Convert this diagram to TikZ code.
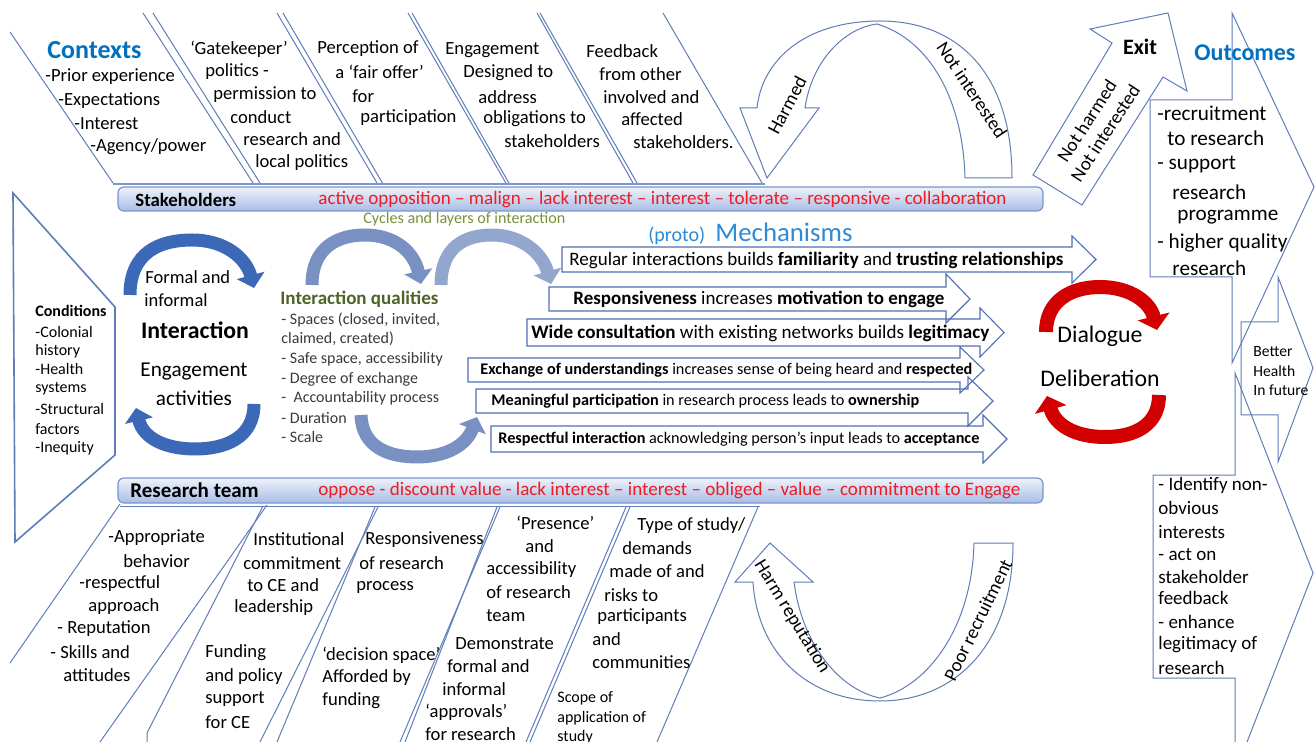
\documentclass[tikz,border=0pt]{standalone}
\usepackage{fontspec}
\setmainfont{Carlito}
\usepackage{graphicx}
\usetikzlibrary{arrows.meta}
\definecolor{lnc}{HTML}{5F7DB8}
\definecolor{mechc}{HTML}{4F70B5}
\definecolor{barb}{HTML}{7C95CC}
\definecolor{barT}{HTML}{EEF2FA}
\definecolor{barB}{HTML}{A8BDE6}
\definecolor{redt}{HTML}{EE1C25}
\definecolor{ttl}{HTML}{0070C0}
\definecolor{mechb}{HTML}{2E8BD6}
\definecolor{colOlive}{HTML}{76923C}
\definecolor{dgreen}{HTML}{4F6228}
\definecolor{iqgray}{HTML}{3A3A3A}
\definecolor{cycA}{HTML}{3C68B8}
\definecolor{cycB}{HTML}{7890C2}
\definecolor{dred}{HTML}{D20000}
\newcommand{\fitw}[2]{\resizebox{#1}{!}{#2}}
\tikzset{
 bone/.style={draw=lnc, line width=0.5pt},
 tx/.style={inner sep=0pt, anchor=west, font=\fontsize{9.3}{11}\selectfont},
 cond/.style={tx, font=\fontsize{8}{10}\selectfont},
 iq/.style={tx, text=iqgray, font=\fontsize{8}{10}\selectfont},
 oca/.style={tx, font=\fontsize{10.6}{12}\selectfont},
 ocb/.style={tx, font=\fontsize{9.5}{11}\selectfont},
 bh/.style={tx, font=\fontsize{7.8}{9}\selectfont},
 scp/.style={tx, font=\fontsize{8}{9}\selectfont},
 mech/.style={draw=mechc, line width=0.55pt},
 bar/.style={draw=barb, line width=0.6pt, rounded corners=3pt, top color=barT, bottom color=barB},
 cyc/.style={line width=6.5pt, -{Triangle[length=6.5pt,width=14pt]}},
 archtxt/.style={inner sep=0pt, font=\fontsize{9.5}{11}\selectfont},
}
\begin{document}
\begin{tikzpicture}[x=0.5pt,y=-0.5pt]
\useasboundingbox (0,0) rectangle (1315,742);
\fill[white] (0,0) rectangle (1315,742);

% ---------- top bones
\draw[bone] (10,32) -- (113,183);
\draw[bone] (143,13) -- (253,183); \draw[bone] (153,13) -- (260,183);
\draw[bone] (277,13) -- (377,183); \draw[bone] (283,13) -- (383,184);
\draw[bone] (408,13) -- (507,185); \draw[bone] (412,13) -- (510,185);
\draw[bone] (537,13) -- (633,183); \draw[bone] (540,13) -- (637,183);
\draw[bone] (663,13) -- (762,183);
\draw[draw=lnc!80, line width=1.2pt] (113,184) -- (765,184);

% ---------- bottom bones
\draw[bone] (120,506) -- (760,506);
\draw[bone] (120,504) -- (10,663);
\draw[bone] (267,505) -- (100,742);
\draw[bone] (263,506) -- (147,733) -- (147,742);
\draw[bone] (378,507) -- (260,742);
\draw[bone] (375,507) -- (277,742);
\draw[bone] (500,507) -- (400,742);
\draw[bone] (497,507) -- (405,742);
\draw[bone] (630,507) -- (530,742);
\draw[bone] (626,507) -- (526,742);
\draw[bone] (758,507) -- (657,742);

% ---------- conditions pentagon
\draw[bone, line width=0.8pt] (13,193) -- (115,307) -- (115,455) -- (15,542) -- cycle;

% ---------- bars
\path[bar] (118,187) rectangle (1043,211);
\path[bar] (118,478) rectangle (1043,503);

% ---------- arch shapes
\draw[bone] (965,178) -- (1012,178) .. controls (1012,70) and (955,21) .. (880,21)
  .. controls (805,21) and (762,60) .. (757,108) -- (740,108) -- (767,178) -- (819,108) -- (805,108)
  .. controls (812,60) and (845,28) .. (877,24) .. controls (930,40) and (963,100) .. (965,178);
\draw[bone] (974,543) -- (1013,543) .. controls (1013,645) and (955,701) .. (880,701)
  .. controls (805,701) and (757,650) .. (753,582) -- (735,582) -- (770,543) -- (813,582) -- (794,582)
  .. controls (802,645) and (840,690) .. (880,698) .. controls (930,685) and (972,625) .. (974,543);

% ---------- exit arrow and outcome chevrons
\draw[bone] (1033,175) -- (1082,205) -- (1163,77) -- (1187,91) -- (1168,13) -- (1090,29) -- (1112,43) -- cycle;
\draw[bone] (1232,13) -- (1314,187) -- (1232,363) -- (1232,277) -- (1150,277) -- (1150,100) -- (1232,100) -- cycle;
\draw[bone] (1278,277) -- (1313,368) -- (1278,462) -- (1278,415) -- (1241,415) -- (1241,322) -- (1278,322) -- cycle;
\draw[bone] (1247,742) -- (1313,573) -- (1235,373) -- (1235,475) -- (1153,475) -- (1153,678) -- (1235,678) -- (1235,742);

% ---------- mechanism arrows
\foreach \xl/\yt/\yb/\xb/\hta/\hba/\xt in {562/247/272/1072/236/283/1096, 549/287/311/946/274/323/970, 527/319/346/980/308/357/1004, 468/358/382/960/347/393/984, 476/389/413/968/377/426/993, 491/426/452/983/415/463/1007}
  {\draw[mech] (\xl,\yt) -- (\xb,\yt) -- (\xb,\hta) -- (\xt,{(\yt+\yb)/2}) -- (\xb,\hba) -- (\xb,\yb) -- (\xl,\yb) -- cycle;}

% ---------- cycle arrows
\draw[cyc, cycA] (130,295) .. controls (130,252) and (160,240) .. (192,240) .. controls (225,240) and (246,258) .. (254,288);
\draw[cyc, cycA] (254,404) .. controls (254,438) and (225,449) .. (195,449) .. controls (165,449) and (143,438) .. (136,408);
\draw[cyc, cycB] (312,285) .. controls (312,247) and (338,235) .. (365,235) .. controls (395,235) and (414,252) .. (421,284);
\draw[cyc, cycB!80] (441,285) .. controls (441,247) and (465,235) .. (492,235) .. controls (520,235) and (542,252) .. (551,284);
\draw[cyc, cycB] (361,415) .. controls (362,448) and (390,457) .. (417,457) .. controls (445,457) and (466,446) .. (477,417);
\draw[dred, line width=7pt, -{Triangle[length=7pt,width=16pt]}] (1046,332) .. controls (1046,300) and (1072,287) .. (1100,287) .. controls (1130,287) and (1150,302) .. (1157,330);
\draw[dred, line width=7pt, -{Triangle[length=7pt,width=16pt]}] (1159,395) .. controls (1159,425) and (1135,437) .. (1105,437) .. controls (1075,437) and (1055,425) .. (1047,396);

% ---------- top texts
\node[tx, text=ttl, font=\bfseries\fontsize{13}{14}\selectfont] (contexts) at (47,50) {Contexts};
\foreach \x/\y/\s [count=\i] in {45/77/{-Prior experience}, 58/101/{-Expectations}, 74/124/{-Interest}, 90/147/{-Agency/power}}
  {\node[tx] (ctx\i) at (\x,\y) {\s};}
\foreach \x/\y/\s [count=\i] in {190/49/{‘Gatekeeper’}, 205/72/{politics -}, 213/95/{permission to}, 230/117/{conduct}, 243/139/{research and}, 255/163/{local politics}}
  {\node[tx] (gk\i) at (\x,\y) {\s};}
\foreach \x/\y/\s [count=\i] in {317/49/{Perception of}, 335/72/{a ‘fair offer’}, 352/96/{for}, 360/118/{participation}}
  {\node[tx] (pf\i) at (\x,\y) {\s};}
\foreach \x/\y/\s [count=\i] in {445/50/{Engagement}, 463/73/{Designed to}, 478/97/{address}, 483/119/{obligations to}, 504/141/{stakeholders}}
  {\node[tx] (eg\i) at (\x,\y) {\s};}
\foreach \x/\y/\s [count=\i] in {586/51/{Feedback}, 599/74/{from other}, 603/97/{involved and}, 621/119/{affected}, 633/142/{stakeholders.}}
  {\node[tx] (fb\i) at (\x,\y) {\s};}

% ---------- arch labels
\node[archtxt, rotate=62] (harmed) at (787,105) {Harmed};
\node[archtxt, rotate=-56.5] (notint) at (972,90) {Not interested};
\node[archtxt, rotate=-58.5] (harmrep) at (792,617) {Harm reputation};
\node[archtxt, rotate=64] (poorrec) at (978,620) {Poor recruitment};
\node[archtxt, rotate=57, align=center] (exitlab) at (1096,127) {Not harmed\\Not interested};
\node[inner sep=0pt, font=\bfseries\fontsize{11}{12}\selectfont] (exit) at (1140,47) {Exit};
\node[inner sep=0pt, text=ttl, font=\bfseries\fontsize{12}{13}\selectfont] (outcomes) at (1245,53) {Outcomes};

% ---------- bars text
\node[tx, font=\bfseries\fontsize{9.4}{11}\selectfont] (stk) at (135,200) {Stakeholders};
\node[tx, text=redt, font=\fontsize{8.5}{10}\selectfont] (stkr) at (318,200) {\fitw{344pt}{active opposition – malign – lack interest – interest – tolerate – responsive - collaboration}};
\node[tx, font=\bfseries\fontsize{10.5}{12}\selectfont] (rt) at (130,490) {Research team};
\node[tx, text=redt, font=\fontsize{8.5}{10}\selectfont] (rtr) at (318,491) {\fitw{351pt}{oppose - discount value - lack interest – interest – obliged – value – commitment to Engage}};
\node[tx, text=colOlive, font=\fontsize{7}{8}\selectfont] (cycles) at (363,219) {\fitw{101pt}{Cycles and layers of interaction}};

% ---------- conditions
\node[cond, font=\bfseries\fontsize{8}{10}\selectfont] (condt) at (35,311) {Conditions};
\foreach \y/\s [count=\i] in {332/{-Colonial}, 351/{history}, 369/{-Health}, 389/{systems}, 409/{-Structural}, 429/{factors}, 448/{-Inequity}}
  {\node[cond] (cd\i) at (35,\y) {\s};}

% ---------- interaction
\node[tx, font=\fontsize{9.25}{11}\selectfont] (fa) at (145,277) {Formal and};
\node[tx, font=\fontsize{9.25}{11}\selectfont] (fb) at (144,300) {informal};
\node[inner sep=0pt, font=\bfseries\fontsize{11.9}{13}\selectfont] (inter) at (195,330) {Interaction};
\node[inner sep=0pt, font=\fontsize{10.6}{12}\selectfont] (engag) at (194,372) {Engagement};
\node[inner sep=0pt, font=\fontsize{10.6}{12}\selectfont] (activ) at (194,398) {activities};

% ---------- interaction qualities
\node[tx, text=dgreen, font=\bfseries\fontsize{9}{10}\selectfont] (iqt) at (280,299) {\fitw{79pt}{Interaction qualities}};
\foreach \y/\s [count=\i] in {320/{- Spaces (closed, invited,}, 339/{claimed, created)}, 359/{- Safe space, accessibility}, 379/{- Degree of exchange}, 398/{-\ \ Accountability process}, 418/{- Duration}, 437/{- Scale}}
  {\node[iq] (iq\i) at (281,\y) {\s};}

% ---------- mechanisms
\node[tx, text=mechb, font=\fontsize{10}{11}\selectfont] (proto) at (648,236) {(proto)};
\node[tx, text=mechb, font=\fontsize{13.4}{15}\selectfont] (mechs) at (715,232) {Mechanisms};
\node[tx, font=\fontsize{8}{9}\selectfont] (m1) at (569,260) {\fitw{247pt}{Regular interactions builds \textbf{familiarity} and \textbf{trusting relationships}}};
\node[tx, font=\fontsize{8}{9}\selectfont] (m2) at (573,299) {\fitw{185.5pt}{\textbf{Responsiveness} increases \textbf{motivation to engage}}};
\node[tx, font=\fontsize{8}{9}\selectfont] (m3) at (531,333) {\fitw{229pt}{\textbf{Wide consultation} with existing networks builds \textbf{legitimacy}}};
\node[tx, font=\fontsize{7}{8}\selectfont] (m4) at (480,370) {\fitw{246pt}{\textbf{Exchange of understandings} increases sense of being heard and \textbf{respected}}};
\node[tx, font=\fontsize{7}{8}\selectfont] (m5) at (491,401) {\fitw{214pt}{\textbf{Meaningful participation} in research process leads to \textbf{ownership}}};
\node[tx, font=\fontsize{7}{8}\selectfont] (m6) at (498,439) {\fitw{240.5pt}{\textbf{Respectful interaction} acknowledging person’s input leads to \textbf{acceptance}}};

% ---------- dialogue
\node[inner sep=0pt, font=\fontsize{11.9}{13}\selectfont] (dial) at (1100,336) {Dialogue};
\node[inner sep=0pt, font=\fontsize{11.9}{13}\selectfont] (delib) at (1100,378) {Deliberation};

% ---------- outcomes texts
\foreach \x/\y/\s [count=\i] in {1157/113/{-recruitment}, 1167/138/{to research}, 1157/165/{- support}, 1172/192/{research}, 1177/217/{programme}, 1157/243/{- higher quality}, 1172/268/{research}}
  {\node[oca] (oa\i) at (\x,\y) {\s};}
\foreach \y/\s [count=\i] in {485/{- Identify non-}, 508/{obvious}, 532/{interests}, 555/{- act on}, 577/{stakeholder}, 598/{feedback}, 622/{- enhance}, 645/{legitimacy of}, 668/{research}}
  {\node[ocb] (ob\i) at (1158,\y) {\s};}
\foreach \y/\s [count=\i] in {352/{Better}, 371/{Health}, 390/{In future}}
  {\node[bh] (bh\i) at (1253,\y) {\s};}

% ---------- bottom texts
\foreach \x/\y/\s [count=\i] in {108/538/{-Appropriate}, 123/561/{behavior}, 79/584/{-respectful}, 88/607/{approach}, 57/629/{- Reputation}, 50/652/{- Skills and}, 63/675/{attitudes}}
  {\node[tx] (ap\i) at (\x,\y) {\s};}
\foreach \x/\y/\s [count=\i] in {253/539/{Institutional}, 243/563/{commitment}, 247/585/{to CE and}, 234/608/{leadership}}
  {\node[tx] (ic\i) at (\x,\y) {\s};}
\foreach \x/\y/\s [count=\i] in {205/653/{Funding}, 205/677/{and policy}, 205/699/{support}, 205/722/{for CE}}
  {\node[tx] (fu\i) at (\x,\y) {\s};}
\foreach \x/\y/\s [count=\i] in {365/540/{Responsiveness}, 359/563/{of research}, 356/587/{process}}
  {\node[tx] (rs\i) at (\x,\y) {\s};}
\foreach \x/\y/\s [count=\i] in {322/655/{‘decision space’}, 322/678/{Afforded by}, 322/701/{funding}}
  {\node[tx] (ds\i) at (\x,\y) {\s};}
\foreach \x/\y/\s [count=\i] in {516/523/{‘Presence’}, 525/546/{and}, 486/570/{accessibility}, 486/592/{of research}, 486/616/{team}}
  {\node[tx] (pr\i) at (\x,\y) {\s};}
\foreach \x/\y/\s [count=\i] in {455/644/{Demonstrate}, 447/666/{formal and}, 442/689/{informal}, 425/712/{‘approvals’}, 425/734/{for research}}
  {\node[tx] (dm\i) at (\x,\y) {\s};}
\foreach \x/\y/\s [count=\i] in {637/526/{Type of study/}, 622/548/{demands}, 609/571/{made of and}, 604/595/{risks to}, 597/617/{participants}, 592/639/{and}, 592/662/{communities}}
  {\node[tx] (ty\i) at (\x,\y) {\s};}
\foreach \y/\s [count=\i] in {698/{Scope of}, 718/{application of}, 737/{study}}
  {\node[scp] (sc\i) at (557,\y) {\s};}
\end{tikzpicture}
\end{document}
